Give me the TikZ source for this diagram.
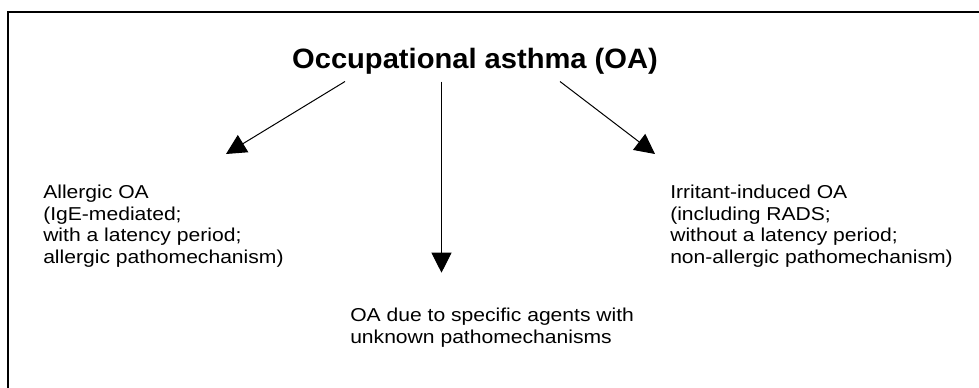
\documentclass[tikz,border=0pt]{standalone}
\usepackage{fontspec}
\setmainfont{Liberation Sans}
\newfontfamily\bodyf[FakeStretch=1.13]{Liberation Sans}
\newfontfamily\titlef[FakeStretch=1.04]{Liberation Sans}
\usetikzlibrary{arrows.meta}
\tikzset{
  blocktext/.style={inner sep=0pt, anchor=north west, align=left,
    font=\bodyf\fontsize{14pt}{16.3pt}\selectfont},
  titletext/.style={inner sep=0pt, anchor=base,
    font=\titlef\bfseries\fontsize{21pt}{24pt}\selectfont},
  branch/.style={line width=0.75pt, -{Triangle[length=15pt,width=15pt]}},
  frameline/.style={line width=1.5pt}
}
\begin{document}
\begin{tikzpicture}[x=0.75pt,y=-0.75pt]
\useasboundingbox (0,0) rectangle (979,387);
\clip (0,0) rectangle (979,387);
\fill[white] (0,0) rectangle (979,387);
\draw[frameline] (8,390) -- (8,11.5) -- (985,11.5);

\node[titletext] (title) at (475,68.3) {Occupational asthma (OA)};

\node[blocktext] (allergic) at (43,184.5) {Allergic OA\\(IgE-mediated;\\with a latency period;\\allergic pathomechanism)};
\node[blocktext] (irritant) at (670,184.5) {Irritant-induced OA\\(including RADS;\\without a latency period;\\non-allergic pathomechanism)};
\node[blocktext] (unknown) at (350,307.9) {OA due to specific agents with\\unknown pathomechanisms};

\coordinate (s1) at (345,81.5);
\coordinate (s2) at (441.5,81.5);
\coordinate (s3) at (560,81.5);
\coordinate (t1) at (226,154);
\coordinate (t2) at (441.5,272.7);
\coordinate (t3) at (655,154);

\draw[branch] (s1) -- (t1);
\draw[branch] (s2) -- (t2);
\draw[branch] (s3) -- (t3);
\end{tikzpicture}
\end{document}
